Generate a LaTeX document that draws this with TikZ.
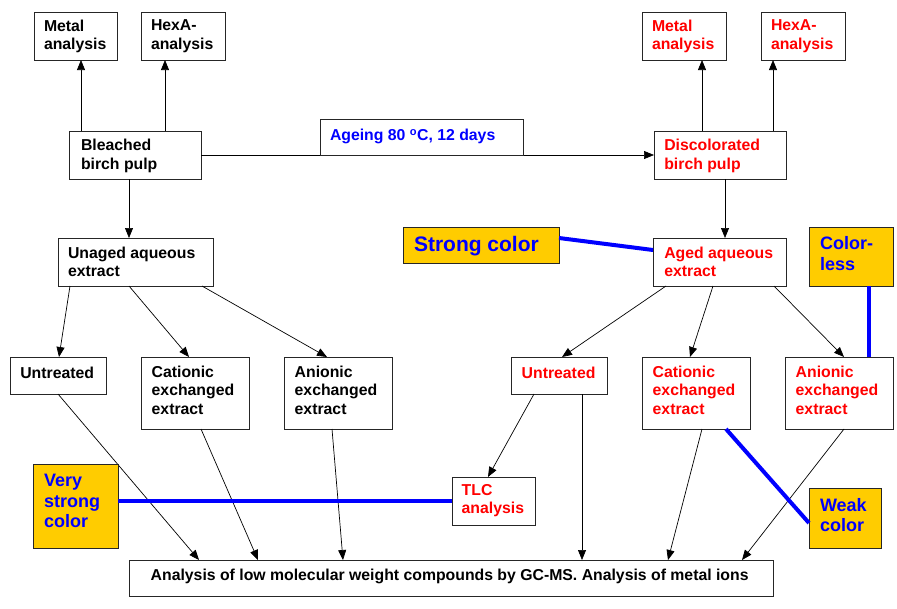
\documentclass[tikz,border=0pt]{standalone}
\usepackage{fontspec}
\setmainfont{Liberation Sans}
\usetikzlibrary{arrows.meta,calc}
\definecolor{tred}{HTML}{FF0000}
\definecolor{tblue}{HTML}{0000FF}
\definecolor{gold}{HTML}{FFCC00}
\newcommand\bx[9]{%
  \node[#6, minimum width=#4pt, minimum height=#5pt, anchor=north west] (#1) at (#2,#3) {};
  \node[#7, anchor=north west] (#1-t) at ([shift={(#8)}]#1.north west) {#9};
}
\tikzset{
  frame/.style={draw=black!85, line width=0.9pt, fill=white, inner sep=0pt, outer sep=0pt},
  callout/.style={frame, fill=gold},
  tsix/.style={inner sep=0pt, outer sep=0pt, align=left, font=\fontsize{15.8}{18.3}\selectfont\bfseries},
  tblk/.style={tsix, text=black},
  tredd/.style={tsix, text=tred},
  tblu/.style={tsix, text=tblue},
  teight/.style={inner sep=0pt, outer sep=0pt, align=left, text=tblue, font=\fontsize{18}{20.7}\selectfont\bfseries},
  tbig/.style={inner sep=0pt, outer sep=0pt, align=left, text=tblue, font=\fontsize{21}{24}\selectfont\bfseries},
  arr/.style={-{Triangle[length=10pt,width=8pt]}, line width=0.7pt, draw=black},
  bluelink/.style={draw=tblue, line width=4pt},
}
\begin{document}
\begin{tikzpicture}[x=1pt,y=-1pt]
\useasboundingbox (0,0) rectangle (897,608);
% boxes
\bx{m1}{34}{12}{83}{48}{frame}{tblk}{10,8}{Metal\\analysis}
\bx{h1}{141}{12}{84}{48}{frame}{tblk}{10,8}{HexA-\\analysis}
\bx{bl}{69}{131}{132}{48}{frame}{tblk}{12,8.3}{Bleached\\birch pulp}
\bx{m2}{642}{12}{84}{48}{frame}{tredd}{10,8}{Metal\\analysis}
\bx{h2}{761}{12}{84}{48}{frame}{tredd}{10,8}{HexA-\\analysis}
\bx{dc}{654}{131}{132}{48}{frame}{tredd}{10.3,8.3}{Discolorated\\birch pulp}
\bx{ua}{58}{238}{155}{48}{frame}{tblk}{10,8.7}{Unaged aqueous\\extract}
\bx{ag}{653}{238}{133}{48}{frame}{tredd}{11.3,8.7}{Aged aqueous\\extract}
\bx{ut1}{10}{357}{96}{37}{frame}{tblk}{10.3,10}{Untreated}
\bx{ca1}{141}{357}{108}{72}{frame}{tblk}{10.7,9}{Cationic\\exchanged\\extract}
\bx{an1}{284}{357}{108}{72}{frame}{tblk}{10.7,9}{Anionic\\exchanged\\extract}
\bx{ut2}{511}{357}{96}{37}{frame}{tredd}{10.7,10}{Untreated}
\bx{ca2}{642}{357}{108}{72}{frame}{tredd}{10.7,9}{Cationic\\exchanged\\extract}
\bx{an2}{785}{357}{108}{72}{frame}{tredd}{10.7,9}{Anionic\\exchanged\\extract}
\bx{tlc}{452}{477}{83}{48}{frame}{tredd}{9.7,7.5}{TLC\\analysis}
\bx{bt}{129}{560}{644}{36}{frame}{tblk}{21.7,9}{Analysis of low molecular weight compounds by GC-MS. Analysis of metal ions}
% connectors
\draw[arr] ([xshift=12pt]bl.north west) -- ([xshift=47pt]m1.south west);
\draw[arr] ([xshift=96pt]bl.north west) -- ([xshift=24pt]h1.south west);
\draw[arr] (bl.east) -- (dc.west);
\draw[arr] ([xshift=60pt]bl.south west) -- ([xshift=71pt]ua.north west);
\draw[arr] ([xshift=48pt]dc.north west) -- ([xshift=60pt]m2.south west);
\draw[arr] ([xshift=119pt]dc.north west) -- ([xshift=12pt]h2.south west);
\draw[arr] ([xshift=71pt]dc.south west) -- ([xshift=72pt]ag.north west);
\draw[arr] ([xshift=12pt]ua.south west) -- ([xshift=49pt]ut1.north west);
\draw[arr] ([xshift=71pt]ua.south west) -- ([xshift=48pt]ca1.north west);
\draw[arr] ([xshift=144pt]ua.south west) -- ([xshift=43pt]an1.north west);
\draw[arr] ([xshift=13pt]ag.south west) -- ([xshift=51pt]ut2.north west);
\draw[arr] ([xshift=60pt]ag.south west) -- ([xshift=48pt]ca2.north west);
\draw[arr] ([xshift=121pt]ag.south west) -- ([xshift=59pt]an2.north west);
\draw[arr] ([xshift=48pt]ut1.south west) -- ([xshift=70pt]bt.north west);
\draw[arr] ([xshift=60pt]ca1.south west) -- ([xshift=129pt]bt.north west);
\draw[arr] ([xshift=48pt]an1.south west) -- ([xshift=214pt]bt.north west);
\draw[arr] ([xshift=23pt]ut2.south west) -- ([xshift=36pt]tlc.north west);
\draw[arr] ([xshift=71pt]ut2.south west) -- ([xshift=453pt]bt.north west);
\draw[arr] ([xshift=60pt]ca2.south west) -- ([xshift=539pt]bt.north west);
\draw[arr] ([xshift=59pt]an2.south west) -- ([xshift=613pt]bt.north west);
% ageing label on the line
\bx{age}{320}{119}{203}{36}{frame}{tblu}{10,10.3}{Ageing 80 \textsuperscript{o}C, 12 days}
% callouts
\bx{sc}{403}{227}{156}{36}{callout}{tbig}{11,9.7}{Strong color}
\bx{cl}{809}{227}{84}{59}{callout}{teight}{11,9.7}{Color-\\less}
\bx{vs}{33}{464}{85}{84}{callout}{teight}{11,10}{Very\\strong\\color}
\bx{wk}{809}{488}{72}{60}{callout}{teight}{11,10}{Weak\\color}
% blue links
\draw[bluelink] ([yshift=-11pt]sc.north east) -- ([yshift=-12pt]ag.north west);
\draw[bluelink] ([xshift=60pt]cl.south west) -- ([xshift=84pt]an2.north west);
\draw[bluelink] ([yshift=-37pt]vs.north east) -- (tlc.west);
\draw[bluelink] ([xshift=84pt]ca2.south west) -- ([yshift=-35pt]wk.north west);
\end{tikzpicture}
\end{document}
